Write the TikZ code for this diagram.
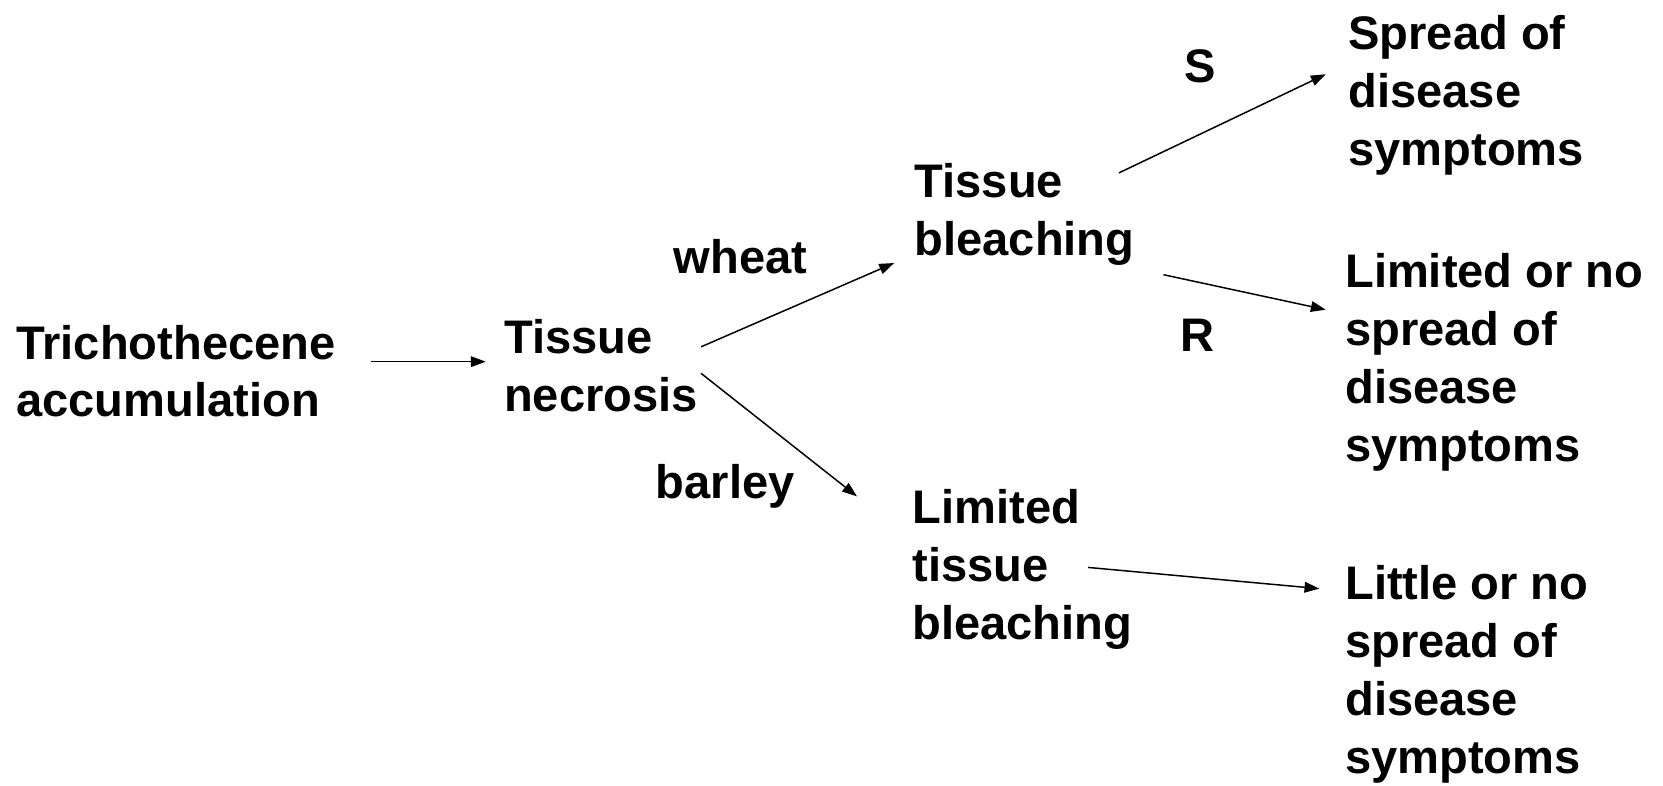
\documentclass[tikz,border=0pt]{standalone}
\usepackage{fontspec}
\setmainfont{Liberation Sans}
\usetikzlibrary{arrows.meta}
\tikzset{
  lbl/.style={anchor=base west, inner sep=0pt, align=left,
    font=\fontsize{22.2}{27.25}\selectfont\bfseries},
  arr/.style={draw=black, line width=0.7pt, -{Triangle[length=7pt,width=5pt]}}
}
\begin{document}
\begin{tikzpicture}[x=0.5pt,y=-0.5pt]
\useasboundingbox (0,0) rectangle (1568,741);
% base anchor of a multi-line node = baseline of its last line
\node[lbl] (trich) at (15,393) {Trichothecene\\accumulation};
\node[lbl] (necro) at (475,388) {Tissue\\necrosis};
\node[lbl] (wheat) at (635,258) {wheat};
\node[lbl] (barley) at (618,470) {barley};
\node[lbl] (bleach) at (862,241) {Tissue\\bleaching};
\node[lbl] (S) at (1116,78) {S};
\node[lbl] (R) at (1113,331) {R};
\node[lbl] (spread) at (1271,156) {Spread of\\disease\\symptoms};
\node[lbl] (limno) at (1268,435) {Limited or no\\spread of\\disease\\symptoms};
\node[lbl] (ltb) at (860,603) {Limited\\tissue\\bleaching};
\node[lbl] (little) at (1268,729) {Little or no\\spread of\\disease\\symptoms};
\draw[arr] ([shift={(335,-52)}]trich.base west) -- ([shift={(-17,-47)}]necro.base west);
\draw[arr] ([shift={(186,-61)}]necro.base west) -- ([shift={(-19,7)}]bleach.base west);
\draw[arr] ([shift={(186,-36)}]necro.base west) -- ([shift={(-52,-135)}]ltb.base west);
\draw[arr] ([shift={(193,-78)}]bleach.base west) -- ([shift={(-21,-86)}]spread.base west);
\draw[arr] ([shift={(235,18)}]bleach.base west) -- ([shift={(-18,-143)}]limno.base west);
\draw[arr] ([shift={(166,-68)}]ltb.base west) -- ([shift={(-24,-174)}]little.base west);
\end{tikzpicture}
\end{document}
